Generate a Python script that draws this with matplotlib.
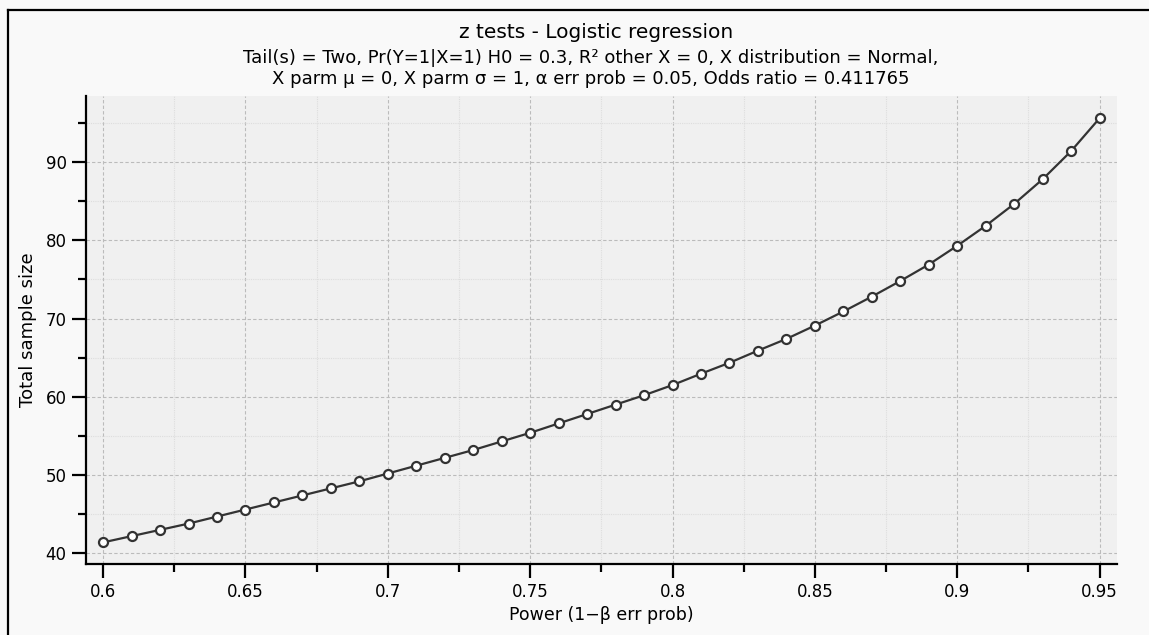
import matplotlib
matplotlib.use("Agg")
import matplotlib.pyplot as plt
from matplotlib.ticker import MultipleLocator, FixedLocator
from matplotlib.lines import Line2D

power = [0.60, 0.61, 0.62, 0.63, 0.64, 0.65, 0.66, 0.67, 0.68, 0.69,
         0.70, 0.71, 0.72, 0.73, 0.74, 0.75, 0.76, 0.77, 0.78, 0.79,
         0.80, 0.81, 0.82, 0.83, 0.84, 0.85, 0.86, 0.87, 0.88, 0.89,
         0.90, 0.91, 0.92, 0.93, 0.94, 0.95]
sample_size = [41.4, 42.2, 43.0, 43.8, 44.7, 45.6, 46.5, 47.4, 48.3, 49.2,
               50.2, 51.2, 52.2, 53.2, 54.3, 55.4, 56.6, 57.8, 59.0, 60.2,
               61.5, 62.95, 64.35, 65.9, 67.4, 69.1, 70.9, 72.8, 74.8, 76.9,
               79.3, 81.85, 84.65, 87.8, 91.4, 95.6]
x_ticks = [0.6, 0.65, 0.7, 0.75, 0.8, 0.85, 0.9, 0.95]
x_labels = ["0.6", "0.65", "0.7", "0.75", "0.8", "0.85", "0.9", "0.95"]
y_ticks = [40, 50, 60, 70, 80, 90]

title = "z tests - Logistic regression"
subtitle_1 = "Tail(s) = Two, Pr(Y=1|X=1) H0 = 0.3, R\u00b2 other X = 0, X distribution = Normal,"
subtitle_2 = "X parm \u03bc = 0, X parm \u03c3 = 1, \u03b1 err prob = 0.05, Odds ratio = 0.411765"
xlabel = "Power (1\u2212\u03b2 err prob)"
ylabel = "Total sample size"

W, H = 1149, 635
fig = plt.figure(figsize=(W / 100, H / 100), dpi=100, facecolor="#f9f9f9")
ax = fig.add_axes([86 / W, 1 - 564 / H, (1117 - 86) / W, (564 - 96) / H])
ax.set_facecolor("#f0f0f0")

ax.plot(power, sample_size, color="#333333", lw=1.6, marker="o", ms=6.5,
        mfc="white", mec="#333333", mew=1.6, zorder=3)

ax.set_xlim(0.594, 0.9561)
ax.set_ylim(38.64, 98.43)
ax.xaxis.set_major_locator(FixedLocator(x_ticks))
ax.set_xticklabels(x_labels)
ax.xaxis.set_minor_locator(MultipleLocator(0.025))
ax.yaxis.set_major_locator(FixedLocator(y_ticks))
ax.yaxis.set_minor_locator(MultipleLocator(5))

ax.grid(which="major", color="#bbbbbb", ls=(0, (3, 2)), lw=0.8)
ax.grid(which="minor", color="#dddddd", ls=(0, (1, 1)), lw=0.8)
ax.set_axisbelow(True)

for s in ("top", "right"):
    ax.spines[s].set_visible(False)
for s in ("left", "bottom"):
    ax.spines[s].set_linewidth(1.6)
    ax.spines[s].set_color("black")

ax.tick_params(which="major", direction="out", length=10, width=1.6, labelsize=12, colors="black", pad=4)
ax.tick_params(which="minor", direction="out", length=6, width=1.6)
ax.set_xlabel(xlabel, fontsize=12.5, labelpad=3)
ax.set_ylabel(ylabel, fontsize=13, labelpad=6)

fig.text(596 / W, 1 - 38 / H, title, ha="center", va="baseline", fontsize=14.5)
fig.text(591 / W, 1 - 63 / H, subtitle_1, ha="center", va="baseline", fontsize=13.0)
fig.text(591 / W, 1 - 84 / H, subtitle_2, ha="center", va="baseline", fontsize=13.0)

# frame lines (top and left)
fig.add_artist(Line2D([8 / W, 8 / W], [0, 1 - 10 / H], color="black", lw=1.6, transform=fig.transFigure))
fig.add_artist(Line2D([8 / W, 1], [1 - 10 / H, 1 - 10 / H], color="black", lw=1.6, transform=fig.transFigure))

fig.savefig("out.png", dpi=100, facecolor=fig.get_facecolor())
